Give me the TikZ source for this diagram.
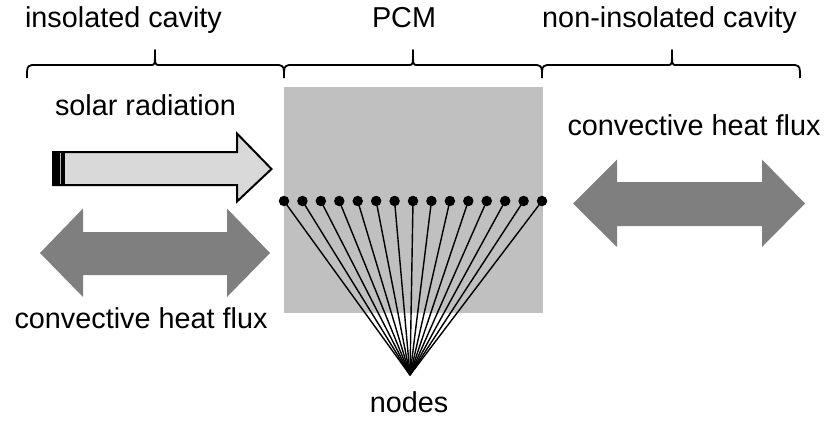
\documentclass[tikz,border=0pt]{standalone}
\usepackage{fontspec}
\setmainfont{Liberation Sans}
\definecolor{pcmgray}{HTML}{C0C0C0}
\definecolor{solargray}{HTML}{D9D9D9}
\definecolor{fluxgray}{HTML}{7F7F7F}
\begin{document}
\begin{tikzpicture}[x=1pt,y=-1pt,
  lbl/.style={anchor=base,inner sep=0pt,font=\fontsize{28.8}{34}\selectfont},
  bracepath/.style={line width=1.8pt,line join=round},
  dot/.style={circle,fill=black,inner sep=0pt,minimum size=10.5pt},
  fan/.style={line width=1.4pt},
  flux/.style={fill=fluxgray,draw=none}]
\useasboundingbox (0,0) rectangle (829,423);

% labels above the braces
\node[lbl] (tIns) at (123.5,27.5) {insolated cavity};
\node[lbl] (tPCM) at (404,27.5) {PCM};
\node[lbl] (tNon) at (669.5,27.5) {non-insolated cavity};

% braces
\foreach \xa/\xm/\xb in {27/155/284, 284/413/542, 542/672/800}{
  \draw[bracepath] (\xa,78) .. controls (\xa,66.5) .. (\xa+5,65)
    -- (\xm-4,65) .. controls (\xm,65) .. (\xm,50)
    .. controls (\xm,65) .. (\xm+4,65)
    -- (\xb-5,65) .. controls (\xb,66.5) .. (\xb,78);
}

% PCM layer
\fill[pcmgray] (284,87) rectangle (543,313);

% solar radiation arrow
\node[lbl] (tSolar) at (145.5,115) {solar radiation};
\draw[line width=2pt,fill=solargray,line join=miter]
  (53,152) -- (237,152) -- (237,133.5) -- (271.5,169) -- (237,201.5)
  -- (237,185) -- (53,185) -- cycle;
\fill[black] (52,151) rectangle (65,186);
\draw[solargray!60!gray,line width=0.9pt] (60,153) -- (60,184);

% convective heat flux, insolated side
\fill[flux] (40,253) -- (83,208.5) -- (83,232) -- (227,232) -- (227,208.5)
  -- (270,253) -- (227,297) -- (227,275) -- (83,275) -- (83,297) -- cycle;
\node[lbl] (tConvL) at (141,328) {convective heat flux};

% convective heat flux, non-insolated side
\node[lbl] (tConvR) at (694,135) {convective heat flux};
\fill[flux] (573,203.5) -- (617,159.5) -- (617,182) -- (762,182) -- (762,159.5)
  -- (805,203.5) -- (762,247) -- (762,226) -- (617,226) -- (617,247) -- cycle;

% computational nodes and their label
\coordinate (apex) at (410,375);
\foreach \i in {0,...,14}{
  \node[dot] (n\i) at ({284+\i*18.43},201) {};
  \draw[fan] (n\i.center) -- (apex);
}
\node[lbl] (tNodes) at (409,412) {nodes};
\end{tikzpicture}
\end{document}
